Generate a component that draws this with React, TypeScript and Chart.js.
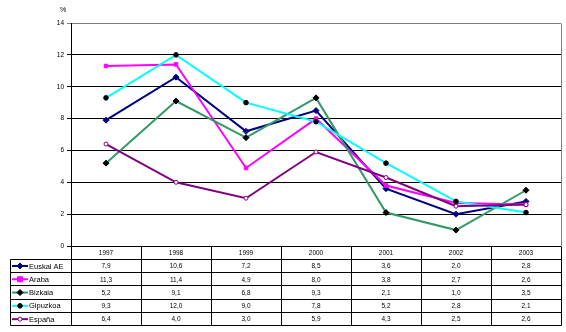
import React, { useEffect, useRef } from 'react';
import { Chart, registerables } from 'chart.js';

Chart.register(...registerables);

const years = ['1997', '1998', '1999', '2000', '2001', '2002', '2003'];
const seriesNames = ['Euskal AE', 'Araba', 'Bizkaia', 'Gipuzkoa', 'España'];
const euskalAE = [7.9, 10.6, 7.2, 8.5, 3.6, 2.0, 2.8];
const araba = [11.3, 11.4, 4.9, 8.0, 3.8, 2.7, 2.6];
const bizkaia = [5.2, 9.1, 6.8, 9.3, 2.1, 1.0, 3.5];
const gipuzkoa = [9.3, 12.0, 9.0, 7.8, 5.2, 2.8, 2.1];
const espana = [6.4, 4.0, 3.0, 5.9, 4.3, 2.5, 2.6];
const yMin = 0;
const yMax = 14;
const yStep = 2;
const yUnit = '%';

const seriesValues = [euskalAE, araba, bizkaia, gipuzkoa, espana];
const lineColors = ['#000080', '#FF00FF', '#339966', '#00FFFF', '#800080'];
const markerFill = ['#000080', '#FF00FF', '#000000', '#000000', '#FFFFFF'];
const markerStroke = ['#000080', '#FF00FF', '#000000', '#000000', '#800080'];
const markerStyle = ['rectRot', 'rect', 'rectRot', 'circle', 'circle'];
const markerRadius = [3, 2.5, 3, 2.3, 2];

const FONT = '"Liberation Sans", Arial, sans-serif';

function crisp(v: number) {
  return Math.floor(v) + 0.5;
}

function drawMarker(ctx: CanvasRenderingContext2D, i: number, x: number, y: number) {
  const r = markerRadius[i];
  ctx.save();
  ctx.fillStyle = markerFill[i];
  ctx.strokeStyle = markerStroke[i];
  ctx.lineWidth = 1;
  ctx.beginPath();
  if (markerStyle[i] === 'rectRot') {
    ctx.moveTo(x, y - r);
    ctx.lineTo(x + r, y);
    ctx.lineTo(x, y + r);
    ctx.lineTo(x - r, y);
    ctx.closePath();
  } else if (markerStyle[i] === 'rect') {
    ctx.rect(x - r, y - r, 2 * r, 2 * r);
  } else {
    ctx.arc(x, y, r, 0, Math.PI * 2);
  }
  ctx.fill();
  ctx.stroke();
  ctx.restore();
}

const tablePlugin = {
  id: 'dataTable',
  afterDraw(chart: any) {
    const ctx: CanvasRenderingContext2D = chart.ctx;
    const area = chart.chartArea;
    const n = years.length;
    const colW = (area.right - area.left) / n;
    const top = area.bottom;
    const rowH = 13.3;
    const headerBottom = top + rowH;
    const bottom = headerBottom + rowH * seriesNames.length;
    const left = 10;

    ctx.save();
    // plot area border (right), gray
    ctx.strokeStyle = '#808080';
    ctx.lineWidth = 1;
    ctx.beginPath();
    ctx.moveTo(crisp(area.right), crisp(area.top));
    ctx.lineTo(crisp(area.right), crisp(top));
    ctx.stroke();

    // table lines
    ctx.strokeStyle = '#000000';
    ctx.beginPath();
    for (let i = 0; i <= n; i++) {
      const x = crisp(area.left + i * colW);
      ctx.moveTo(x, crisp(top));
      ctx.lineTo(x, crisp(bottom));
    }
    ctx.moveTo(crisp(left), crisp(headerBottom));
    ctx.lineTo(crisp(left), crisp(bottom));
    for (let r = 0; r <= seriesNames.length; r++) {
      const y = crisp(headerBottom + r * rowH);
      ctx.moveTo(crisp(left), y);
      ctx.lineTo(crisp(area.right), y);
    }
    ctx.stroke();

    // header texts
    ctx.fillStyle = '#000000';
    ctx.textAlign = 'center';
    ctx.textBaseline = 'middle';
    ctx.font = `6.5px ${FONT}`;
    for (let i = 0; i < n; i++) {
      const cx = area.left + (i + 0.5) * colW;
      ctx.fillText(years[i], cx, (top + headerBottom) / 2 + 0.5);
    }
    // values
    for (let s = 0; s < seriesNames.length; s++) {
      const cy = headerBottom + (s + 0.5) * rowH + 0.5;
      for (let i = 0; i < n; i++) {
        const cx = area.left + (i + 0.5) * colW;
        ctx.fillText(seriesValues[s][i].toFixed(1).replace('.', ','), cx, cy);
      }
    }
    // legend keys
    ctx.textAlign = 'left';
    ctx.font = `7.5px ${FONT}`;
    for (let s = 0; s < seriesNames.length; s++) {
      const cy = headerBottom + (s + 0.5) * rowH;
      ctx.strokeStyle = lineColors[s];
      ctx.lineWidth = 2;
      ctx.beginPath();
      ctx.moveTo(12, cy);
      ctx.lineTo(28, cy);
      ctx.stroke();
      drawMarker(ctx, s, 20, cy);
      ctx.fillStyle = '#000000';
      ctx.fillText(seriesNames[s], 29, cy + 0.5);
    }

    // unit label
    ctx.textAlign = 'center';
    ctx.font = `7px ${FONT}`;
    ctx.fillText(yUnit, 63, 10);
    ctx.restore();
  },
};

export default function App() {
  const canvasRef = useRef<HTMLCanvasElement | null>(null);

  useEffect(() => {
    const canvas = canvasRef.current;
    if (!canvas) return;
    const chart = new Chart(canvas, {
      type: 'line',
      data: {
        labels: years,
        datasets: seriesNames.map((name, i) => ({
          label: name,
          data: seriesValues[i],
          borderColor: lineColors[i],
          backgroundColor: markerFill[i],
          borderWidth: 2,
          tension: 0,
          fill: false,
          pointStyle: markerStyle[i] as any,
          pointRadius: markerRadius[i],
          pointBackgroundColor: markerFill[i],
          pointBorderColor: markerStroke[i],
          pointBorderWidth: 1,
          order: seriesNames.length - 1 - i,
        })),
      },
      options: {
        animation: false,
        responsive: false,
        maintainAspectRatio: false,
        devicePixelRatio: 1,
        layout: { padding: { left: 0, top: 23, right: 2, bottom: 86 } },
        plugins: {
          legend: { display: false },
          tooltip: { enabled: false },
        },
        scales: {
          x: {
            type: 'category',
            display: false,
            offset: true,
          },
          y: {
            min: yMin,
            max: yMax,
            ticks: {
              stepSize: yStep,
              color: '#000000',
              padding: 3,
              font: { family: FONT, size: 6.5 },
            },
            grid: {
              color: (c: any) => (c.tick && c.tick.value === yMax ? '#808080' : '#000000'),
              lineWidth: 1,
              tickLength: 4,
              drawTicks: true,
            },
            border: { color: '#000000', width: 1 },
            afterFit: (s: any) => {
              s.width = 71;
            },
          },
        },
      },
      plugins: [tablePlugin],
    });
    return () => chart.destroy();
  }, []);

  return (
    <div style={{ position: 'absolute', left: 0, top: 0, width: 566, height: 332 }}>
      <canvas ref={canvasRef} width={566} height={332} style={{ width: 566, height: 332 }} />
    </div>
  );
}
